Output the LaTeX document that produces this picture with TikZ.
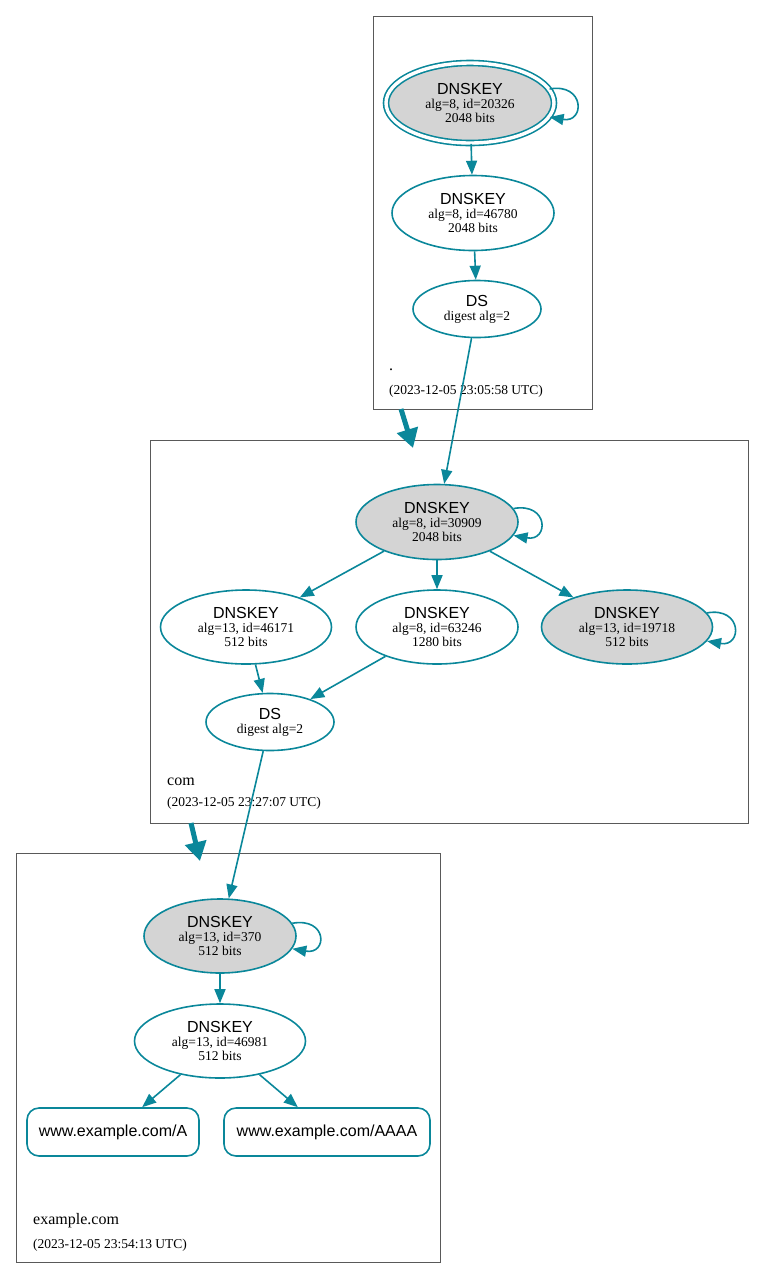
\documentclass[tikz,border=0pt]{standalone}
\usepackage{fontspec}
\setmainfont{Liberation Serif}
\newfontfamily\hv{Liberation Sans}
\usetikzlibrary{shapes}
\usetikzlibrary{arrows.meta}
\definecolor{dnsteal}{HTML}{0A879A}

\newcommand{\keytext}[2]{{\hv\fontsize{16}{14}\selectfont DNSKEY}\\#1\\#2 bits}
\newcommand{\dstext}{{\hv\fontsize{16}{14}\selectfont DS}\\digest alg=2}

\begin{document}
\begin{tikzpicture}[x=1pt, y=-1pt, >={Triangle[length=14pt,width=11pt]},
  key/.style={draw=dnsteal, ellipse, line width=1.6pt, inner sep=0pt, align=center, font=\fontsize{13.5}{14}\selectfont},
  ksk/.style={key, fill=black!17},
  zone/.style={draw=black!65, line width=0.9pt},
  zonename/.style={anchor=base west, inner sep=0pt, font=\fontsize{16}{18}\selectfont},
  zonedate/.style={anchor=base west, inner sep=0pt, font=\fontsize{13.5}{14}\selectfont},
  rrset/.style={draw=dnsteal, rectangle, rounded corners=12pt, line width=1.6pt, minimum height=48pt, font=\hv\fontsize{16}{18}\selectfont},
  link/.style={color=dnsteal, line width=1.6pt},
  deleg/.style={color=dnsteal, line width=5pt, -{Triangle[length=19pt,width=21pt]}}]
  \useasboundingbox (0,0) rectangle (764,1278);

  % root zone
  \draw[zone] (373,16) rectangle (592,409);
  \node[ksk, double=white, double distance=3.4pt, minimum width=168pt, minimum height=80pt] (rootksk) at (470,103) {\keytext{alg=8, id=20326}{2048}};
  \node[key, minimum width=162pt, minimum height=75pt] (rootzsk) at (473,213) {\keytext{alg=8, id=46780}{2048}};
  \node[key, minimum width=128pt, minimum height=57pt] (rootds) at (477,309) {\dstext};
  \node[zonename] (rootname) at (389,370) {.};
  \node[zonedate] (rootdate) at (389,394) {(2023-12-05 23:05:58 UTC)};

  \path[link, ->] (rootksk) edge[out=10, in=-10, distance=36pt] (rootksk);
  \path[link, ->] (rootksk) edge (rootzsk);
  \path[link, ->] (rootzsk) edge (rootds);

  % com zone
  \draw[zone] (150,440) rectangle (748,823);
  \node[ksk, minimum width=162pt, minimum height=75pt] (comksk) at (437,522) {\keytext{alg=8, id=30909}{2048}};
  \node[key, minimum width=171pt, minimum height=74pt] (comzska) at (246,627) {\keytext{alg=13, id=46171}{512}};
  \node[key, minimum width=162pt, minimum height=74pt] (comzskb) at (437,627) {\keytext{alg=8, id=63246}{1280}};
  \node[ksk, minimum width=171pt, minimum height=74pt] (comkskb) at (627,627) {\keytext{alg=13, id=19718}{512}};
  \node[key, minimum width=128pt, minimum height=57pt] (comds) at (270,722) {\dstext};
  \node[zonename] (comname) at (167,785) {com};
  \node[zonedate] (comdate) at (167,806) {(2023-12-05 23:27:07 UTC)};

  \path[link, ->] (rootds) edge (comksk);
  \path[link, ->] (comksk) edge[out=10, in=-10, distance=36pt] (comksk);
  \path[link, ->] (comkskb) edge[out=10, in=-10, distance=36pt] (comkskb);
  \path[link, ->] (comksk) edge (comzska);
  \path[link, ->] (comksk) edge (comzskb);
  \path[link, ->] (comksk) edge (comkskb);
  \path[link, ->] (comzska) edge (comds);
  \path[link, ->] (comzskb) edge (comds);

  % example.com zone
  \draw[zone] (16,853) rectangle (440,1262);
  \node[ksk, minimum width=152pt, minimum height=74pt] (exksk) at (220,936) {\keytext{alg=13, id=370}{512}};
  \node[key, minimum width=171pt, minimum height=74pt] (exzsk) at (220,1041) {\keytext{alg=13, id=46981}{512}};
  \node[rrset, minimum width=172pt] (rra) at (113,1132) {www.example.com/A};
  \node[rrset, minimum width=206pt] (rraaaa) at (327,1132) {www.example.com/AAAA};
  \node[zonename] (exname) at (33,1224) {example.com};
  \node[zonedate] (exdate) at (33,1248) {(2023-12-05 23:54:13 UTC)};

  \path[link, ->] (comds) edge (exksk);
  \path[link, ->] (exksk) edge[out=10, in=-10, distance=36pt] (exksk);
  \path[link, ->] (exksk) edge (exzsk);
  \path[link, ->] (exzsk) edge (rra);
  \path[link, ->] (exzsk) edge (rraaaa);

  % delegations
  \coordinate (rootcut) at (401,409);
  \coordinate (comtop) at (413,448);
  \coordinate (comcut) at (191,823);
  \coordinate (extop) at (200,861);
  \draw[deleg] (rootcut) -- (comtop);
  \draw[deleg] (comcut) -- (extop);
\end{tikzpicture}
\end{document}
